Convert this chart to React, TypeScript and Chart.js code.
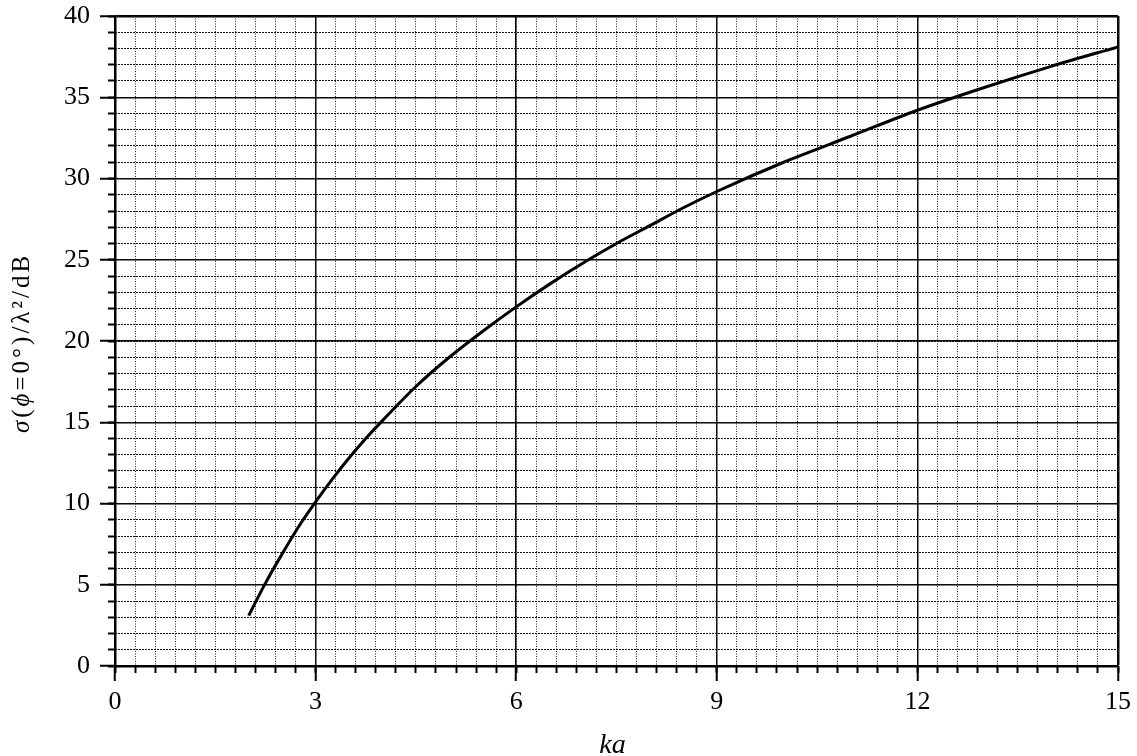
import React, { useEffect, useRef } from "react";
import { Chart, registerables } from "chart.js";

Chart.register(...registerables);

// ---- data ----
const kaValues = [2, 2.25, 2.5, 2.75, 3, 3.25, 3.5, 3.75, 4, 4.5, 5, 5.5, 6, 6.5, 7, 7.5, 8, 8.5, 9, 10, 11, 12, 13, 14, 15];
const sigmaDb = [3.1, 5.1, 6.9, 8.6, 10.1, 11.5, 12.8, 14.0, 15.1, 17.2, 19.0, 20.6, 22.1, 23.5, 24.8, 26.0, 27.1, 28.2, 29.2, 31.0, 32.6, 34.2, 35.6, 36.9, 38.1];

const xTickValues = [0, 3, 6, 9, 12, 15];
const xTickLabels = ["0", "3", "6", "9", "12", "15"];
const yTickValues = [0, 5, 10, 15, 20, 25, 30, 35, 40];
const yTickLabels = ["0", "5", "10", "15", "20", "25", "30", "35", "40"];

const xTitle = "ka";
const yTitleParts: [string, boolean][] = [
  ["σ", true],
  ["(", false],
  ["ϕ", true],
  ["=0°)/λ²/dB", false],
];

const FONT = "'Liberation Serif', 'Times New Roman', serif";

const titlePlugin = {
  id: "axisTitles",
  afterDraw(chart: any) {
    const ctx: CanvasRenderingContext2D = chart.ctx;
    const area = chart.chartArea;
    ctx.save();
    ctx.fillStyle = "#000";
    // x title
    ctx.font = `italic 28px ${FONT}`;
    ctx.textAlign = "center";
    ctx.textBaseline = "alphabetic";
    ctx.fillText(xTitle, (area.left + area.right) / 2 - 4, 753);
    // y title (rotated, mixed italic)
    ctx.translate(29, (area.top + area.bottom) / 2 + 2);
    ctx.rotate(-Math.PI / 2);
    (ctx as any).letterSpacing = "3px";
    ctx.textAlign = "left";
    const size = 25;
    const widths = yTitleParts.map(([t, it]) => {
      ctx.font = `${it ? "italic " : ""}${size}px ${FONT}`;
      return ctx.measureText(t).width;
    });
    const total = widths.reduce((a, b) => a + b, 0);
    let x = -total / 2;
    yTitleParts.forEach(([t, it], i) => {
      ctx.font = `${it ? "italic " : ""}${size}px ${FONT}`;
      ctx.fillText(t, x, 0);
      x += widths[i];
    });
    ctx.restore();
  },
};

export default function App() {
  const canvasRef = useRef<HTMLCanvasElement | null>(null);

  useEffect(() => {
    if (!canvasRef.current) return;
    const tickFont = { family: FONT, size: 26 };
    const chart = new Chart(canvasRef.current, {
      type: "line",
      data: {
        datasets: [
          {
            data: kaValues.map((k, i) => ({ x: k, y: sigmaDb[i] })),
            borderColor: "#000",
            borderWidth: 3,
            pointRadius: 0,
            cubicInterpolationMode: "monotone",
            fill: false,
            xAxisID: "x",
            yAxisID: "y",
          },
        ],
      },
      options: {
        animation: false,
        responsive: true,
        maintainAspectRatio: false,
        devicePixelRatio: 1,
        layout: { padding: { left: 0, right: 19, top: 16, bottom: 0 } },
        plugins: { legend: { display: false }, tooltip: { enabled: false }, title: { display: false } },
        scales: {
          x: {
            type: "linear",
            position: "bottom",
            weight: 1,
            min: 0,
            max: 15,
            afterBuildTicks: (s: any) => {
              s.ticks = xTickValues.map((v) => ({ value: v }));
            },
            afterFit: (s: any) => {
              s.height = 90;
              s.paddingLeft = 0;
              s.paddingRight = 0;
            },
            ticks: {
              font: tickFont,
              color: "#000",
              padding: 6,
              maxRotation: 0,
              autoSkip: false,
              callback: (v: any) => xTickLabels[xTickValues.indexOf(Number(v))] ?? "",
            },
            grid: {
              color: "#000",
              lineWidth: (c: any) => (c.tick && c.tick.value === 15 ? 2.5 : 1.5),
              drawTicks: true,
              tickLength: 15,
              tickColor: "#000",
              tickWidth: 2,
            },
            border: { display: true, color: "#000", width: 2.5 },
          },
          xm: {
            type: "linear",
            position: "bottom",
            weight: 0,
            min: 0,
            max: 15,
            ticks: { display: false, stepSize: 0.3, autoSkip: false },
            afterFit: (s: any) => {
              s.height = 0;
              s.paddingLeft = 0;
              s.paddingRight = 0;
            },
            grid: {
              color: "#222",
              lineWidth: 1,
              drawTicks: true,
              tickLength: 7,
              tickColor: "#000",
              tickWidth: 2,
              tickBorderDash: [],
            },
            border: { display: false, dash: [1, 1.5] },
          },
          y: {
            type: "linear",
            position: "left",
            weight: 1,
            min: 0,
            max: 40,
            afterBuildTicks: (s: any) => {
              s.ticks = yTickValues.map((v) => ({ value: v }));
            },
            afterFit: (s: any) => {
              s.width = 115;
              s.paddingTop = 0;
              s.paddingBottom = 0;
            },
            ticks: {
              font: tickFont,
              color: "#000",
              padding: 10,
              autoSkip: false,
              callback: (v: any) => yTickLabels[yTickValues.indexOf(Number(v))] ?? "",
            },
            grid: {
              color: "#000",
              lineWidth: (c: any) => (c.tick && c.tick.value === 40 ? 2.5 : 1.5),
              drawTicks: true,
              tickLength: 15,
              tickColor: "#000",
              tickWidth: 2,
            },
            border: { display: true, color: "#000", width: 2.5 },
          },
          ym: {
            type: "linear",
            position: "left",
            weight: 0,
            min: 0,
            max: 40,
            ticks: { display: false, stepSize: 1, autoSkip: false },
            afterFit: (s: any) => {
              s.width = 0;
              s.paddingTop = 0;
              s.paddingBottom = 0;
            },
            grid: {
              color: "#111",
              lineWidth: 1,
              drawTicks: true,
              tickLength: 7,
              tickColor: "#000",
              tickWidth: 2,
              tickBorderDash: [],
            },
            border: { display: false, dash: [2, 1] },
          },
        },
      } as any,
      plugins: [titlePlugin],
    });
    return () => chart.destroy();
  }, []);

  return (
    <div style={{ position: "absolute", left: 0, top: 0, width: 1137, height: 756 }}>
      <canvas ref={canvasRef} />
    </div>
  );
}
